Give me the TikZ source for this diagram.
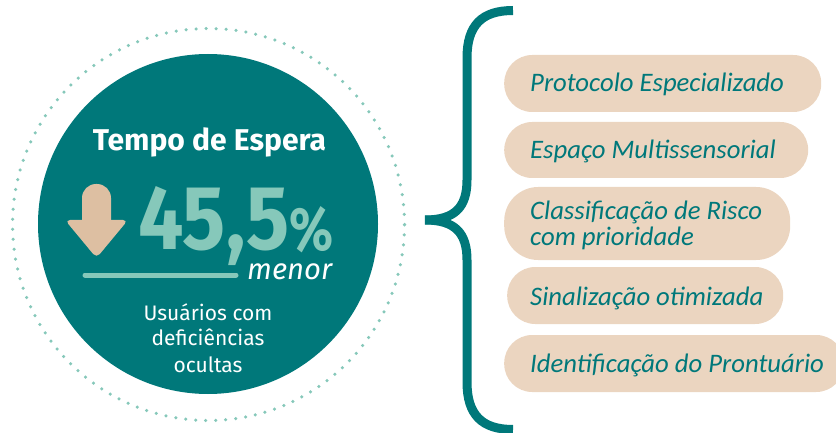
\documentclass[tikz,border=0pt]{standalone}
\usepackage{fontspec}
\setmainfont{Fira Sans}
\newfontfamily\pillfont{Carlito}
\usepackage{graphicx}
\definecolor{teal1}{HTML}{00787A}
\definecolor{mint}{HTML}{86C8BA}
\definecolor{tan1}{HTML}{DDBFA2}
\definecolor{beige}{HTML}{EBD5C0}
\begin{document}
\begin{tikzpicture}[x=1pt,y=-1pt,
  pill/.style={fill=beige, draw=none, rounded corners=28pt, anchor=west, inner sep=0pt},
  pilltext/.style={anchor=base west, text=teal1, font=\pillfont\itshape\fontsize{26.7}{28}\selectfont, inner sep=0pt, align=left},
  whitetext/.style={text=white, inner sep=0pt}]
\useasboundingbox (0,0) rectangle (836,433);
% circles
\node[circle, fill=teal1, minimum size=340pt, inner sep=0pt] (disc) at (208,224) {};
\draw[mint, line width=3.5pt, line cap=round, dash pattern=on 0pt off 10.01pt] (208.5,224.5) circle[radius=196pt];
% title
\node[whitetext, anchor=base] (title) at (209.5,150) {\resizebox{233pt}{!}{\bfseries Tempo de Espera}};
% arrow
\fill[tan1, rounded corners=14pt] (82,184) rectangle (111,238);
\fill[tan1, rounded corners=5pt] (65,220) -- (128,220) -- (96.5,258) -- cycle;
% number
\node[anchor=base west, inner sep=0pt, text=mint] (num) at (138,250) {\resizebox{151pt}{63pt}{\bfseries 45,5}};
\node[anchor=base west, inner sep=0pt, text=mint] (pct) at (289,251) {\resizebox{44pt}{44pt}{\bfseries\%}};
\coordinate (ul1) at (85,275);
\coordinate (ul2) at (236,275);
\draw[mint, line width=5pt, line cap=round] (ul1) -- (ul2);
\node[whitetext, anchor=base west] (menor) at (247,279) {\resizebox{85pt}{!}{\itshape menor}};
% subtitle
\node[whitetext, anchor=base, font=\fontsize{21}{26}\selectfont] (sub1) at (208,320) {Usuários com};
\node[whitetext, anchor=base, font=\fontsize{21}{26}\selectfont] (sub2) at (208,345.5) {deficiências};
\node[whitetext, anchor=base, font=\fontsize{21}{26}\selectfont] (sub3) at (208,372) {ocultas};
% brace
\coordinate (btop) at (513,10.5);
\coordinate (bmid) at (425,220);
\coordinate (bbot) at (513,429.5);
\draw[teal1, line width=9pt] (btop) .. controls (482,10.5) and (467,25) .. (467,58) -- (467,180) .. controls (467,207) and (455,220) .. (bmid);
\draw[teal1, line width=9pt] (bmid) .. controls (455,220) and (467,233) .. (467,260) -- (467,382) .. controls (467,415) and (482,429.5) .. (bbot);
% pills
\node[pill, minimum width=317pt, minimum height=57pt] (p1) at (504,83.5) {};
\node[pill, minimum width=304pt, minimum height=56pt] (p2) at (504,150) {};
\node[pill, minimum width=286pt, minimum height=73pt, rounded corners=34pt] (p3) at (504,223.5) {};
\node[pill, minimum width=276pt, minimum height=57pt] (p4) at (507,295.5) {};
\node[pill, minimum width=340pt, minimum height=57pt] (p5) at (504,363.5) {};
\node[pilltext] (t1) at (530,92) {Protocolo Especializado};
\node[pilltext] (t2) at (530,159) {Espaço Multissensorial};
\node[pilltext] (t3) at (530,219) {Classificação de Risco};
\node[pilltext] (t3b) at (530,245) {com prioridade};
\node[pilltext] (t4) at (530,305) {Sinalização otimizada};
\node[pilltext] (t5) at (530,372) {Identificação do Prontuário};
\end{tikzpicture}
\end{document}
